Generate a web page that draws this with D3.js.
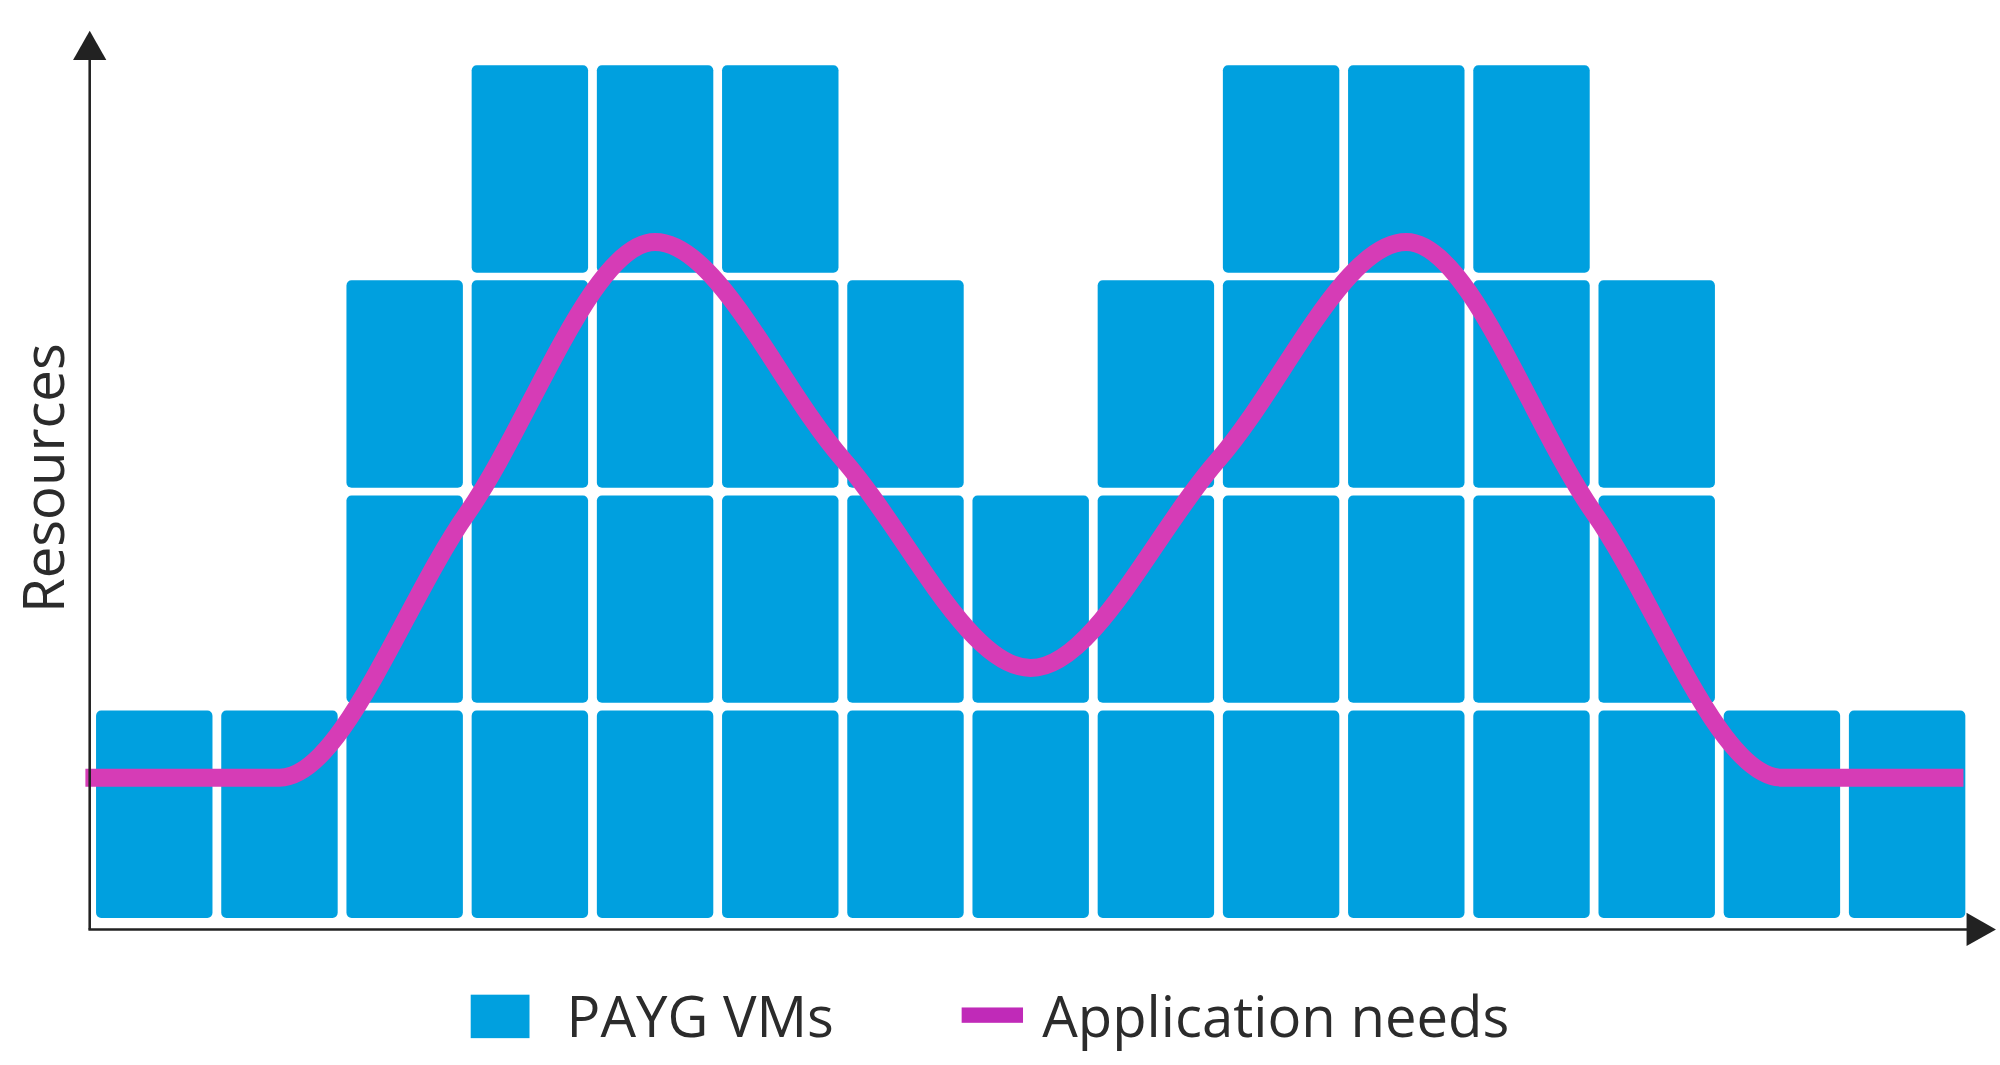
<!DOCTYPE html>
<html>
<head>
<meta charset="utf-8">
<script src="https://cdn.jsdelivr.net/npm/d3@7"></script>
<style>
  body { margin: 0; background: #fff; }
  text { font-family: "Open Sans", "Noto Sans", sans-serif; fill: #2b2b2b; }
</style>
</head>
<body>
<div id="chart"></div>
<script>
// stacked VM counts per time slot
var slots = d3.range(15);
var vmCounts = [1, 1, 3, 4, 4, 4, 3, 2, 3, 4, 4, 4, 3, 1, 1];

// application needs curve (x in slot units, y in VM units)
var needX = [-0.55, 1.0, 2.5, 4.0, 5.5, 7.0, 8.5, 10.0, 11.5, 13.0, 14.45];
var needY = [0.67, 0.67, 1.9, 3.16, 2.15, 1.18, 2.15, 3.16, 1.9, 0.67, 0.67];

var legendLabels = ["PAYG VMs", "Application needs"];

var W = 1564, H = 833;
var svg = d3.select("#chart").append("svg")
    .attr("width", 2000).attr("height", 1065)
    .attr("viewBox", "0 0 " + W + " " + H);

var x = d3.scaleBand().domain(slots).range([73, 1539]).paddingInner(0.07).paddingOuter(0.02);
var y = d3.scaleLinear().domain([0, 4]).range([721, 48]);
var xc = d3.scaleLinear().domain([0, 14]).range([x(0) + x.bandwidth() / 2, x(14) + x.bandwidth() / 2]);

var cells = [];
vmCounts.forEach(function(n, i) {
    for (var k = 0; k < n; k++) cells.push({slot: i, level: k});
});

var gap = 6;
svg.append("g").selectAll("rect")
    .data(cells).enter().append("rect")
    .attr("x", function(d) { return x(d.slot); })
    .attr("y", function(d) { return y(d.level + 1) + gap / 2; })
    .attr("width", x.bandwidth())
    .attr("height", function(d) { return y(d.level) - y(d.level + 1) - gap; })
    .attr("rx", 4)
    .attr("fill", "#00a0df");

// needs line
var line = d3.line()
    .x(function(d) { return xc(d[0]); })
    .y(function(d) { return y(d[1]); })
    .curve(d3.curveMonotoneX);

svg.append("path")
    .datum(d3.zip(needX, needY))
    .attr("d", line)
    .attr("fill", "none")
    .attr("stroke", "#d63cb6")
    .attr("stroke-width", 14);

// axes
var ax = svg.append("g").attr("stroke", "#222").attr("stroke-width", 2);
ax.append("line").attr("x1", 70).attr("y1", 727).attr("x2", 70).attr("y2", 44);
ax.append("line").attr("x1", 69).attr("y1", 727).attr("x2", 1540).attr("y2", 727);
svg.append("path").attr("d", "M70,24 L57,47 L83,47 Z").attr("fill", "#222");
svg.append("path").attr("d", "M1561,727 L1538,714 L1538,740 Z").attr("fill", "#222");

svg.append("text")
    .attr("transform", "translate(50,374) rotate(-90)")
    .attr("text-anchor", "middle")
    .style("font-size", "44px")
    .text("Resources");

// legend
svg.append("rect").attr("x", 368).attr("y", 778).attr("width", 46).attr("height", 34).attr("fill", "#00a0df");
svg.append("text").attr("x", 443).attr("y", 811).style("font-size", "44px").text(legendLabels[0]);
svg.append("rect").attr("x", 752).attr("y", 788).attr("width", 48).attr("height", 12).attr("fill", "#c02ab8");
svg.append("text").attr("x", 815).attr("y", 811).style("font-size", "44px").text(legendLabels[1]);
</script>
</body>
</html>
